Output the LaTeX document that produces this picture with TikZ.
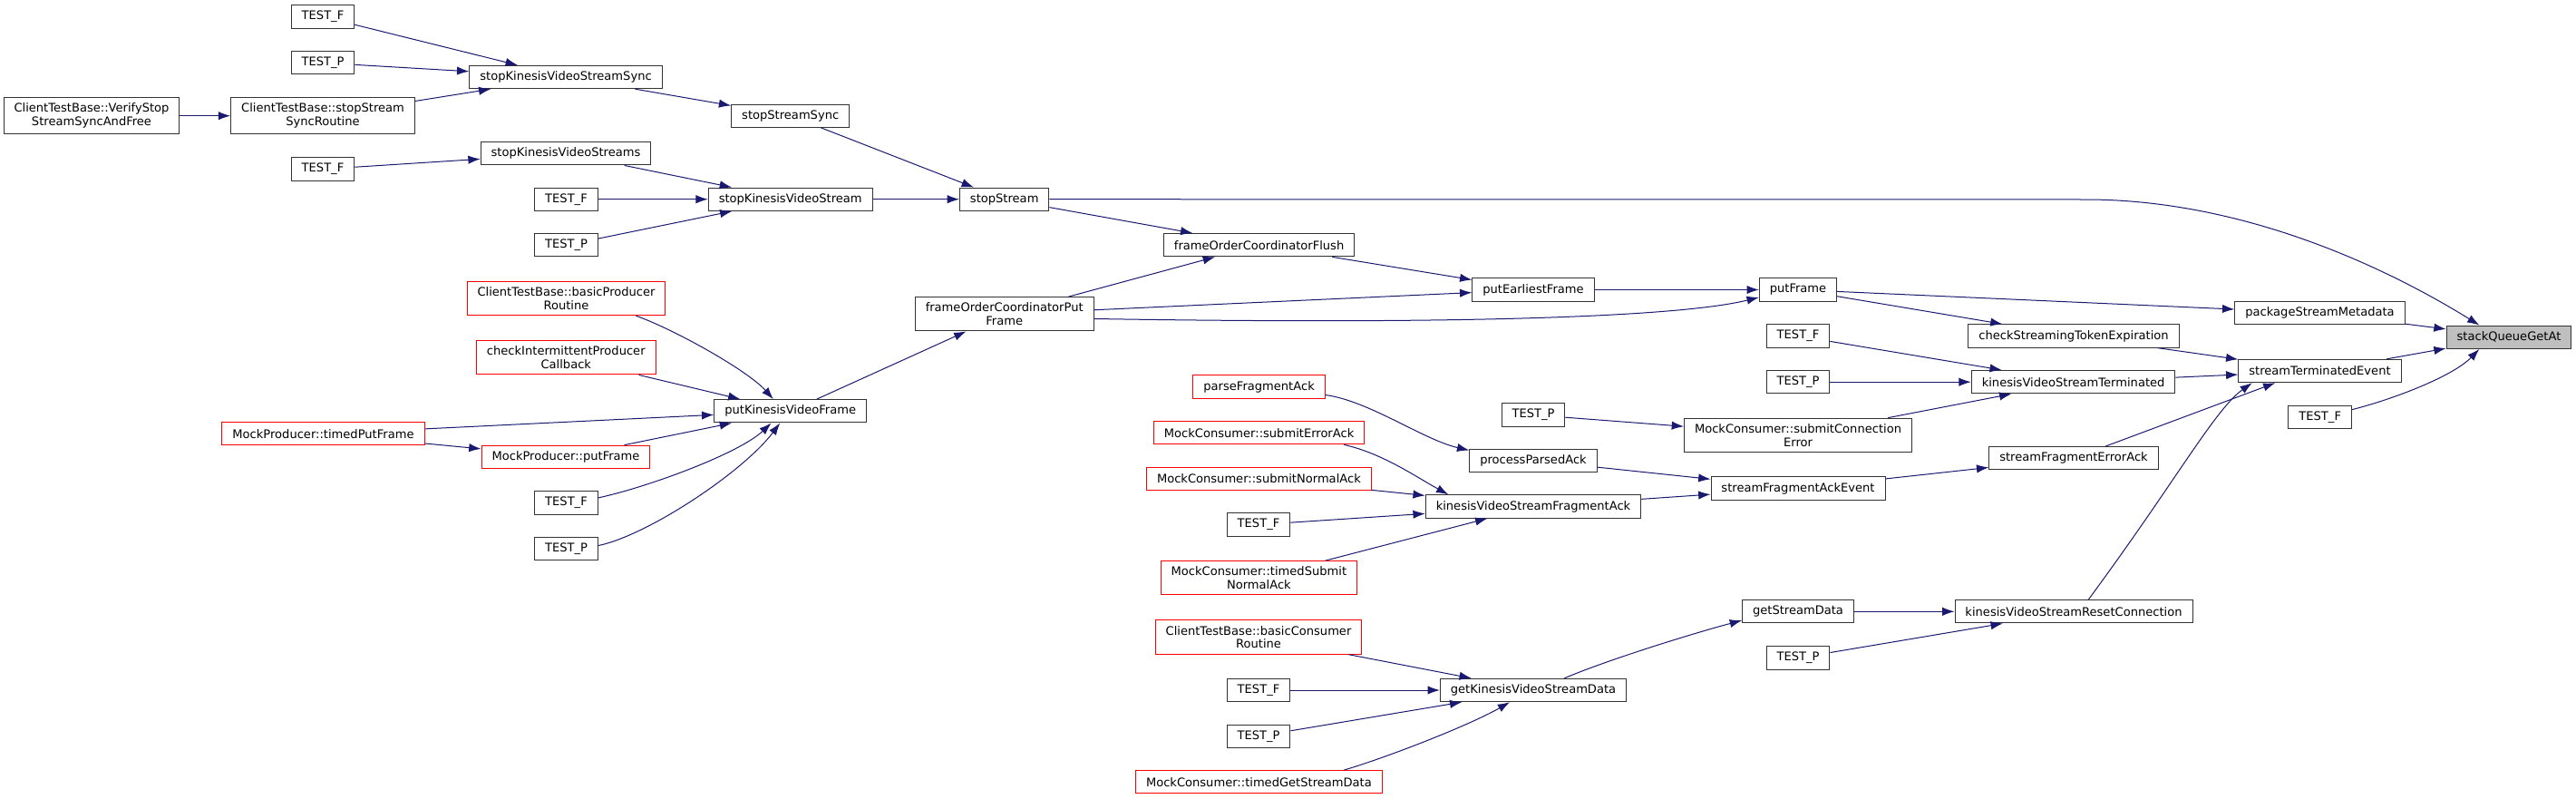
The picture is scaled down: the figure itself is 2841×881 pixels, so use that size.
\documentclass[tikz,border=0pt]{standalone}
\usepackage{fontspec}
\setmainfont{DejaVu Sans}
\usetikzlibrary{arrows.meta}
\definecolor{edgeblue}{HTML}{191970}
\definecolor{boxline}{HTML}{333333}
\definecolor{rootgray}{HTML}{BFBFBF}
\begin{document}
\begin{tikzpicture}[x=0.75pt, y=-0.75pt]
        \useasboundingbox (0,0) rectangle (2841,881);
        \tikzstyle{every node}=[draw=boxline, fill=white, line width=0.75pt, inner xsep=8.6pt, inner ysep=4.7pt, minimum height=19pt, align=center, font=\fontsize{9.8}{11}\selectfont]
        \tikzstyle{trunc}=[draw=red]
        \tikzstyle{call}=[-{Latex[length=10pt,width=7pt]}, color=edgeblue, line width=0.75pt]
        \node (verifyStop)     at (101, 127.7) {ClientTestBase::VerifyStop\\StreamSyncAndFree};
        \node (tfA)            at (356, 18.5)  {TEST\_F};
        \node (tpA)            at (356, 69.3)  {TEST\_P};
        \node (syncRoutine)    at (356, 127.7) {ClientTestBase::stopStream\\SyncRoutine};
        \node (tfB)            at (356, 186.5) {TEST\_F};
        \node[trunc] (timedPutFrame) at (356.5, 478.3) {MockProducer::timedPutFrame};
        \node (stopKVSSync)    at (624, 85)    {stopKinesisVideoStreamSync};
        \node (stopKVStreams)  at (624, 169.3) {stopKinesisVideoStreams};
        \node (tfC)            at (624.5, 219.7) {TEST\_F};
        \node (tpC)            at (624.5, 270.3) {TEST\_P};
        \node[trunc] (basicProducer) at (624.5, 329) {ClientTestBase::basicProducer\\Routine};
        \node[trunc] (checkInterm)   at (624.3, 394.3) {checkIntermittentProducer\\Callback};
        \node[trunc] (mockPutFrame)  at (624, 503.8) {MockProducer::putFrame};
        \node (tfD)            at (624.5, 554.5) {TEST\_F};
        \node (tpD)            at (624.5, 605.3) {TEST\_P};
        \node (stopStreamSync) at (871.7, 127.7) {stopStreamSync};
        \node (stopKVStream)   at (871.7, 219.7) {stopKinesisVideoStream};
        \node (putKVFrame)     at (871.7, 453.3) {putKinesisVideoFrame};
        \node (stopStream)     at (1107.7, 219.7) {stopStream};
        \node (focPutFrame)    at (1107.7, 346.3) {frameOrderCoordinatorPut\\Frame};
        \node (focFlush)       at (1388.6, 270.2) {frameOrderCoordinatorFlush};
        \node[trunc] (parseFragAck)  at (1388.6, 426.5) {parseFragmentAck};
        \node[trunc] (submitErrAck)  at (1388.6, 477.2) {MockConsumer::submitErrorAck};
        \node[trunc] (submitNormAck) at (1388.4, 527.7) {MockConsumer::submitNormalAck};
        \node (tfE)            at (1388, 578.5) {TEST\_F};
        \node[trunc] (timedSubmit)   at (1388.4, 637.2) {MockConsumer::timedSubmit\\NormalAck};
        \node[trunc] (basicConsumer) at (1388, 702.5) {ClientTestBase::basicConsumer\\Routine};
        \node (tfF)            at (1388, 761)   {TEST\_F};
        \node (tpF)            at (1388, 811.7) {TEST\_P};
        \node[trunc] (timedGetData)  at (1388.4, 862.3) {MockConsumer::timedGetStreamData};
        \node (putEarliest)    at (1691, 319.5) {putEarliestFrame};
        \node (tpG)            at (1691, 457.5) {TEST\_P};
        \node (processParsed)  at (1691, 507.7) {processParsedAck};
        \node (kvsFragAck)     at (1691, 558.5) {kinesisVideoStreamFragmentAck};
        \node (getKVSData)     at (1691, 761)   {getKinesisVideoStreamData};
        \node (putFrame)       at (1983, 319.5) {putFrame};
        \node (tfH)            at (1983, 370.5) {TEST\_F};
        \node (tpH)            at (1983, 421.2) {TEST\_P};
        \node (submitConnErr)  at (1983, 479.8) {MockConsumer::submitConnection\\Error};
        \node (fragAckEvent)   at (1983, 538.5) {streamFragmentAckEvent};
        \node (getStreamData)  at (1983, 674.3) {getStreamData};
        \node (tpI)            at (1983, 725.5) {TEST\_P};
        \node (checkToken)     at (2287, 370.5) {checkStreamingTokenExpiration};
        \node (kvsTerminated)  at (2286.6, 421.2) {kinesisVideoStreamTerminated};
        \node (fragErrAck)     at (2287, 505.2) {streamFragmentErrorAck};
        \node (resetConn)      at (2287, 674.3) {kinesisVideoStreamResetConnection};
        \node (packageMeta)    at (2558.5, 345.2) {packageStreamMetadata};
        \node (termEvent)      at (2558.5, 409) {streamTerminatedEvent};
        \node (tfJ)            at (2558.7, 459.8) {TEST\_F};
        \node[fill=rootgray] (sqga) at (2767, 371.7) {stackQueueGetAt};
        \draw[call] (tfA) -- (stopKVSSync);
        \draw[call] (tpA) -- (stopKVSSync);
        \draw[call] (syncRoutine) -- (stopKVSSync);
        \draw[call] (verifyStop) -- (syncRoutine);
        \draw[call] (stopKVSSync) -- (stopStreamSync);
        \draw[call] (stopStreamSync) -- (stopStream);
        \draw[call] (tfB) -- (stopKVStreams);
        \draw[call] (stopKVStreams) -- (stopKVStream);
        \draw[call] (tfC) -- (stopKVStream);
        \draw[call] (tpC) -- (stopKVStream);
        \draw[call] (stopKVStream) -- (stopStream);
        \draw[call] (stopStream) -- (2300, 220) .. controls (2480, 220) and (2640, 300) .. (sqga.158);
        \draw[call] (stopStream) -- (focFlush);
        \draw[call] (focPutFrame) -- (focFlush);
        \draw[call] (focFlush) -- (putEarliest);
        \draw[call] (focPutFrame) -- (putEarliest);
        \draw[call] (focPutFrame.-3) .. controls (1600, 358) and (1850, 350) .. (putFrame.-169);
        \draw[call] (putEarliest) -- (putFrame);
        \draw[call] (putFrame) -- (packageMeta);
        \draw[call] (putFrame) -- (checkToken);
        \draw[call] (packageMeta) -- (sqga);
        \draw[call] (checkToken) -- (termEvent);
        \draw[call] (termEvent) -- (sqga);
        \draw[call] (tfJ.13) .. controls (2640, 440) and (2705, 415) .. (sqga.-158);
        \draw[call] (tfH) -- (kvsTerminated);
        \draw[call] (tpH) -- (kvsTerminated);
        \draw[call] (submitConnErr) -- (kvsTerminated);
        \draw[call] (kvsTerminated) -- (termEvent);
        \draw[call] (fragErrAck) -- (termEvent.-165);
        \draw[call] (resetConn.39) .. controls (2400, 530) and (2443, 451) .. (termEvent.-170);
        \draw[call] (fragAckEvent) -- (fragErrAck);
        \draw[call] (tpG) -- (submitConnErr);
        \draw[call] (processParsed) -- (fragAckEvent);
        \draw[call] (kvsFragAck) -- (fragAckEvent);
        \draw[call] (parseFragAck.-7) .. controls (1510, 442) and (1570, 485) .. (processParsed.171);
        \draw[call] (submitErrAck.-8) .. controls (1525, 500) and (1562, 526) .. (kvsFragAck.172);
        \draw[call] (submitNormAck) -- (kvsFragAck);
        \draw[call] (tfE) -- (kvsFragAck);
        \draw[call] (timedSubmit) -- (kvsFragAck);
        \draw[call] (getStreamData) -- (resetConn);
        \draw[call] (tpI) -- (resetConn);
        \draw[call] (getKVSData.21) .. controls (1774, 727) and (1872, 697) .. (getStreamData.-171);
        \draw[call] (basicConsumer) -- (getKVSData);
        \draw[call] (tfF) -- (getKVSData);
        \draw[call] (tpF) -- (getKVSData);
        \draw[call] (timedGetData.8) .. controls (1530, 835) and (1620, 800) .. (getKVSData.-153);
        \draw[call] (putKVFrame) -- (focPutFrame);
        \draw[call] (basicProducer.-14) .. controls (743, 363) and (824, 408) .. (putKVFrame.145);
        \draw[call] (checkInterm) -- (putKVFrame);
        \draw[call] (timedPutFrame) -- (putKVFrame);
        \draw[call] (timedPutFrame) -- (mockPutFrame);
        \draw[call] (mockPutFrame) -- (putKVFrame);
        \draw[call] (tfD.9) .. controls (715, 537) and (815, 500) .. (putKVFrame.-148);
        \draw[call] (tpD.6) .. controls (715, 590) and (820, 520) .. (putKVFrame.-131);
\end{tikzpicture}
\end{document}
